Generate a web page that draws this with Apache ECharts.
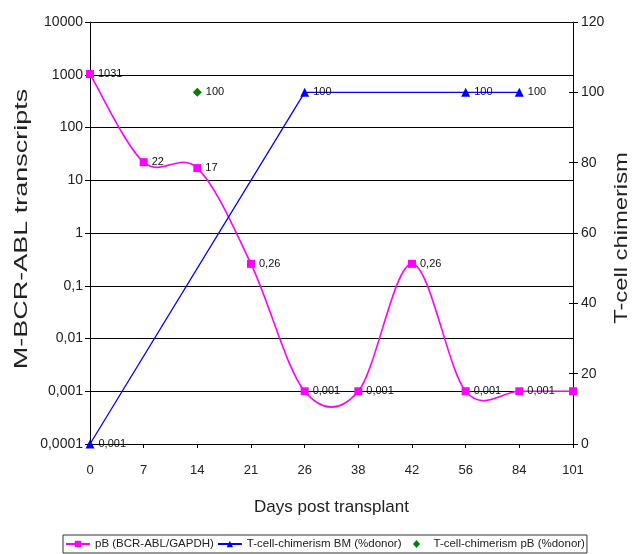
<!DOCTYPE html>
<html>
<head>
<meta charset="utf-8">
<script src="https://cdn.jsdelivr.net/npm/echarts@6/dist/echarts.min.js"></script>
<style>
  html, body { margin: 0; padding: 0; background: #fff; }
  #chart { width: 638px; height: 554px; }
</style>
</head>
<body>
<div id="chart"></div>
<script>
// Days post transplant (category axis)
const days = ['0', '7', '14', '21', '26', '38', '42', '56', '84', '101'];

// M-BCR-ABL transcripts in peripheral blood (BCR-ABL/GAPDH), log scale
const pbTranscripts = [1031, 22, 17, 0.26, 0.001, 0.001, 0.26, 0.001, 0.001, 0.001];
// which transcript points carry a value label
const pbLabelShown = [true, true, true, true, true, true, true, true, true, false];

// T-cell chimerism in bone marrow (% donor)
const bmChimerism = [0.001, null, null, null, 100, null, null, 100, 100, null];

// T-cell chimerism in peripheral blood (% donor)
const pbChimerism = [null, null, 100, null, null, null, null, null, null, null];

// left axis decade labels
const logTickLabels = {
  '-4': '0,0001', '-3': '0,001', '-2': '0,01', '-1': '0,1',
  '0': '1', '1': '10', '2': '100', '3': '1000', '4': '10000'
};

const PINK = '#ff00ff', BLUE = '#0000ff', GREEN = '#007f00';
const fmt = v => String(v).replace('.', ',');
const font = 'Liberation Sans, Arial, sans-serif';
const labelStyle = {
  show: true, position: 'right', distance: 4,
  fontFamily: font, fontSize: 11, color: '#111', opacity: 1,
  formatter: p => fmt(p.value)
};

// legend icon: a small diamond centred in the icon slot (no line)
const diamondIcon = 'image://data:image/svg+xml;charset=utf-8,' + encodeURIComponent(
  '<svg xmlns="http://www.w3.org/2000/svg" width="48" height="16" viewBox="0 0 24 8">' +
  '<polygon points="12,0 15.5,4 12,8 8.5,4" fill="' + GREEN + '"/></svg>'
);

// Smooth curve through the transcript points (Catmull-Rom -> cubic Bezier),
// positioned with the chart's own coordinate system.
function renderSmoothCurve(params, api) {
  if (params.dataIndex !== 0) return;
  const pts = pbTranscripts.map((v, i) => api.coord([i, v]));
  const n = pts.length;
  const children = [];
  for (let i = 0; i < n - 1; i++) {
    const p0 = pts[i - 1] || pts[i];
    const p1 = pts[i];
    const p2 = pts[i + 1];
    const p3 = pts[i + 2] || pts[i + 1];
    children.push({
      type: 'bezierCurve',
      shape: {
        x1: p1[0], y1: p1[1],
        cpx1: p1[0] + (p2[0] - p0[0]) / 6, cpy1: p1[1] + (p2[1] - p0[1]) / 6,
        cpx2: p2[0] - (p3[0] - p1[0]) / 6, cpy2: p2[1] - (p3[1] - p1[1]) / 6,
        x2: p2[0], y2: p2[1]
      },
      style: { stroke: PINK, fill: null, lineWidth: 1.6 }
    });
  }
  return { type: 'group', children };
}

const tickLine = { color: '#000', width: 1 };

const chart = echarts.init(document.getElementById('chart'));
chart.setOption({
  animation: false,
  backgroundColor: '#fff',
  grid: { left: 90, right: 65, top: 22, bottom: 110, outerBoundsMode: 'none' },
  graphic: [
    {
      type: 'text', x: 22, y: 229, rotation: Math.PI / 2, scaleX: 1.42,
      style: {
        text: 'M-BCR-ABL transcripts', fontFamily: font, fontSize: 19,
        fill: '#222', align: 'center', verticalAlign: 'middle'
      }
    },
    {
      type: 'text', x: 622, y: 238, rotation: Math.PI / 2, scaleX: 1.32,
      style: {
        text: 'T-cell chimerism', fontFamily: font, fontSize: 18,
        fill: '#222', align: 'center', verticalAlign: 'middle'
      }
    }
  ],
  legend: {
    bottom: 1, left: 63,
    padding: [3, 2],
    borderColor: '#333', borderWidth: 1,
    itemGap: 3, itemWidth: 24, itemHeight: 8,
    textStyle: { fontFamily: font, fontSize: 11.5, color: '#222' },
    data: [
      { name: 'pB (BCR-ABL/GAPDH)', lineStyle: { color: PINK, width: 2, opacity: 1 } },
      { name: 'T-cell-chimerism BM (%donor)' },
      { name: 'T-cell-chimerism pB (%donor)', icon: diamondIcon }
    ]
  },
  xAxis: {
    type: 'category',
    data: days,
    boundaryGap: false,
    name: 'Days post transplant',
    nameLocation: 'middle',
    nameGap: 55,
    nameTextStyle: { fontFamily: font, fontSize: 17, color: '#222' },
    axisLine: { lineStyle: { color: '#000', width: 1 } },
    axisTick: { show: true, length: 4, lineStyle: tickLine },
    axisLabel: { margin: 20, fontFamily: font, fontSize: 13, color: '#222' },
    splitLine: { show: false }
  },
  yAxis: [
    {
      type: 'log',
      logBase: 10,
      min: 0.0001,
      max: 10000,
      position: 'left',
      axisLine: { show: true, lineStyle: { color: '#000', width: 1 } },
      axisTick: { show: true, length: 5, lineStyle: tickLine },
      axisLabel: {
        margin: 7, fontFamily: font, fontSize: 14, color: '#222',
        formatter: v => logTickLabels[String(Math.round(Math.log10(v)))] || ''
      },
      splitLine: { show: true, lineStyle: { color: '#000', width: 1 } }
    },
    {
      type: 'value',
      min: 0,
      max: 120,
      interval: 20,
      position: 'right',
      axisLine: { show: true, lineStyle: { color: '#000', width: 1 } },
      axisTick: { show: true, length: 5, lineStyle: tickLine },
      axisLabel: { margin: 8, fontFamily: font, fontSize: 14, color: '#222' },
      splitLine: { show: false }
    },
    // inner halves of the crossing tick marks
    {
      type: 'log', logBase: 10, min: 0.0001, max: 10000, position: 'left',
      axisLine: { show: false }, axisLabel: { show: false }, splitLine: { show: false },
      axisTick: { show: true, inside: true, length: 4, lineStyle: tickLine }
    },
    {
      type: 'value', min: 0, max: 120, interval: 20, position: 'right',
      axisLine: { show: false }, axisLabel: { show: false }, splitLine: { show: false },
      axisTick: { show: true, inside: true, length: 4, lineStyle: tickLine }
    }
  ],
  series: [
    {
      type: 'custom',
      name: 'pB curve',
      coordinateSystem: 'cartesian2d',
      yAxisIndex: 0,
      renderItem: renderSmoothCurve,
      encode: { x: 0, y: 1 },
      data: pbTranscripts.map((v, i) => [i, v]),
      clip: false,
      silent: true,
      z: 2
    },
    {
      name: 'pB (BCR-ABL/GAPDH)',
      type: 'line',
      yAxisIndex: 0,
      symbol: 'rect',
      symbolSize: 8,
      itemStyle: { color: PINK },
      lineStyle: { color: PINK, width: 0, opacity: 0 },
      data: pbTranscripts.map((v, i) => ({
        value: v,
        label: Object.assign({}, labelStyle, { show: pbLabelShown[i] })
      })),
      z: 4
    },
    {
      name: 'T-cell-chimerism BM (%donor)',
      type: 'line',
      yAxisIndex: 1,
      connectNulls: true,
      symbol: 'triangle',
      symbolSize: 9,
      itemStyle: { color: BLUE },
      lineStyle: { color: BLUE, width: 1.3 },
      label: labelStyle,
      data: bmChimerism,
      z: 3
    },
    {
      name: 'T-cell-chimerism pB (%donor)',
      type: 'scatter',
      yAxisIndex: 1,
      symbol: 'diamond',
      symbolSize: 9,
      itemStyle: { color: GREEN, opacity: 1 },
      label: labelStyle,
      data: pbChimerism,
      z: 5
    }
  ]
});
</script>
</body>
</html>
